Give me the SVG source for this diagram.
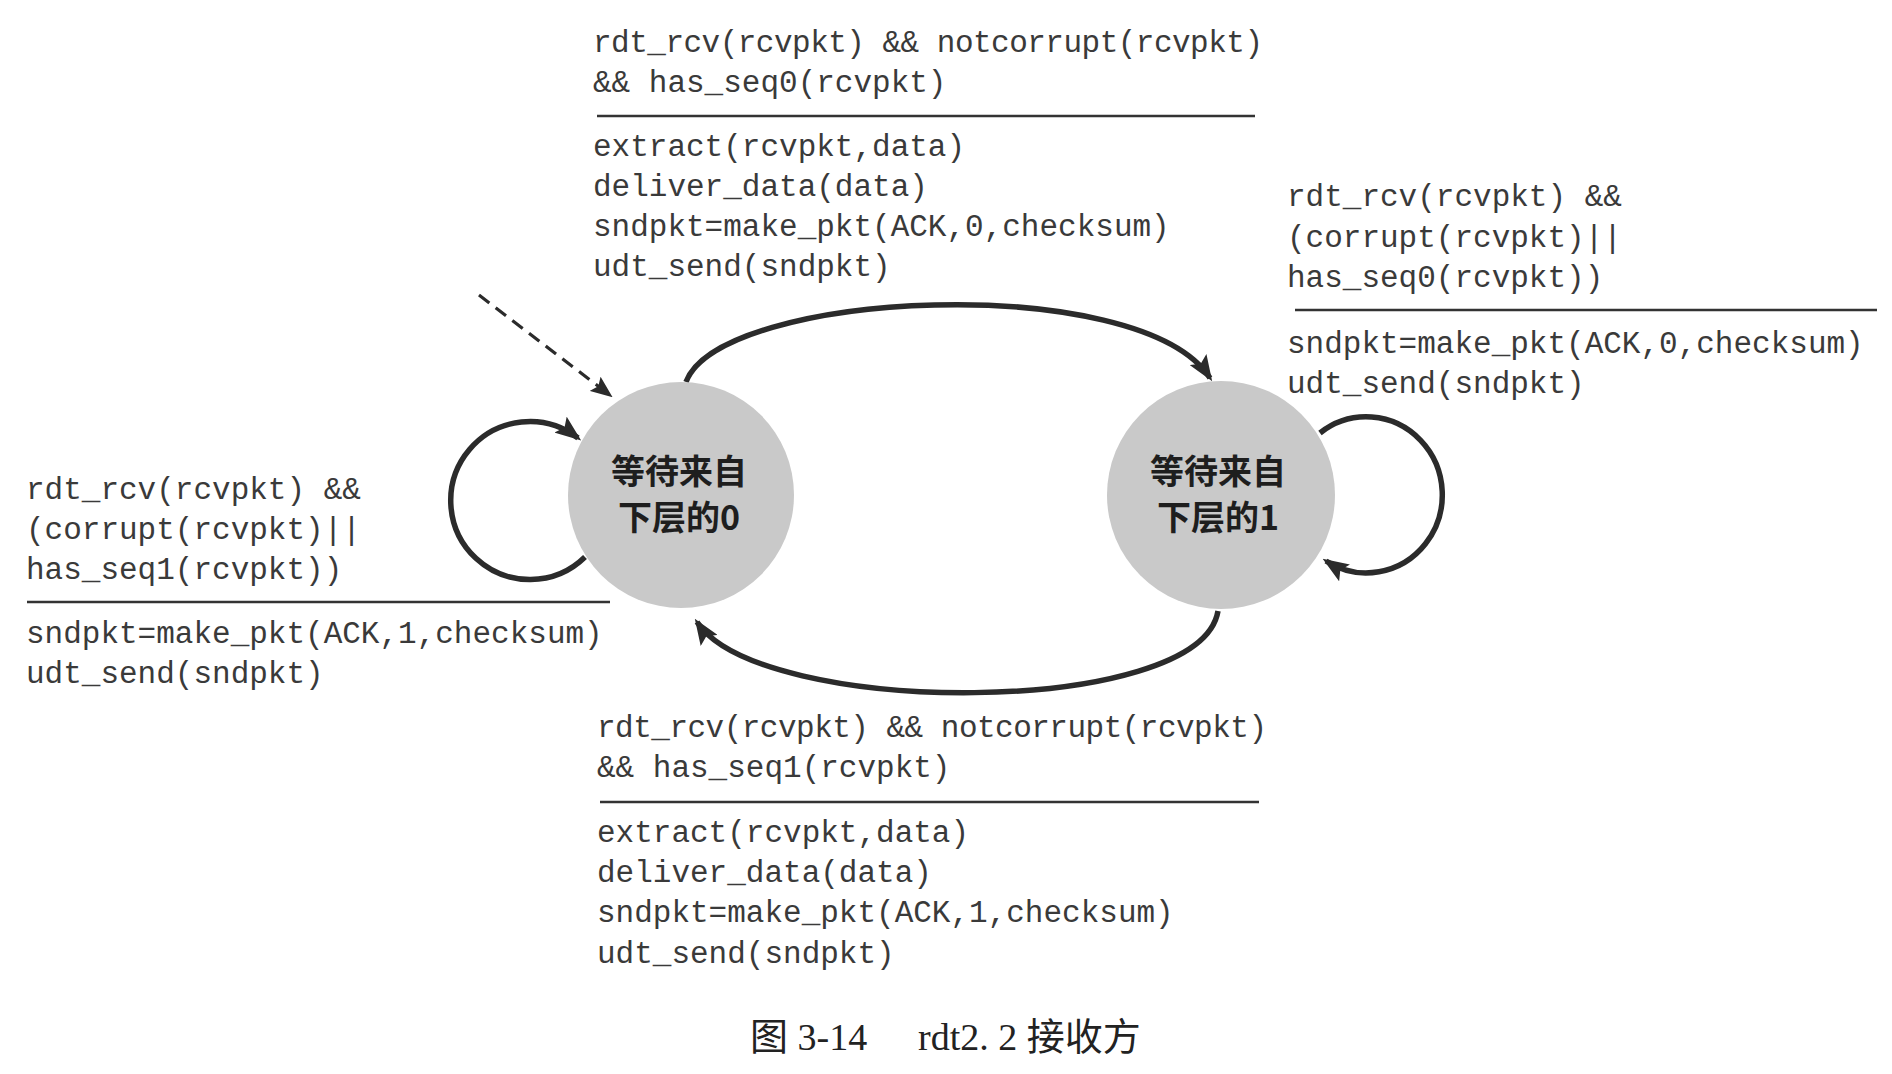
<svg xmlns="http://www.w3.org/2000/svg" width="1892" height="1074" viewBox="0 0 1892 1074">
<style>
.lbl{font-family:"Liberation Mono","DejaVu Sans Mono",monospace;font-size:31px;fill:#3a3a3a}
.rule{stroke:#333;stroke-width:2.5}
.edge{fill:none;stroke:#2b2b2b;stroke-width:5.5}
.state{fill:#c9c9c9}
.stxt{font-family:"Noto Sans CJK SC",sans-serif;font-size:34px;font-weight:bold;fill:#1e1e1e;text-anchor:middle}
.cap{font-family:"Liberation Serif","Noto Sans CJK SC",serif;font-size:38px;fill:#222}
</style>
<defs>
<marker id="ah" markerWidth="26" markerHeight="20" refX="22" refY="10" orient="auto" markerUnits="userSpaceOnUse">
<path d="M0,0 L26,10 L0,20 L5,10 z" fill="#2b2b2b"/>
</marker>
<marker id="ahs" markerWidth="22" markerHeight="18" refX="20" refY="9" orient="auto" markerUnits="userSpaceOnUse">
<path d="M0,0 L22,9 L0,18 L4,9 z" fill="#2b2b2b"/>
</marker>
</defs>
<rect width="1892" height="1074" fill="#ffffff"/>

<g id="connectors">
<path class="edge" d="M 686 382 C 720 290, 1140 270, 1210 378" marker-end="url(#ah)"/>
<path class="edge" d="M 1218 611 C 1200 718, 760 718, 697 622" marker-end="url(#ah)"/>
<path class="edge" d="M 585 557 A 79 79 0 1 1 578 438" marker-end="url(#ah)"/>
<path class="edge" d="M 1320 433 A 76 78 0 1 1 1326 561" marker-end="url(#ah)"/>
<path d="M 479 295 L 611 396" fill="none" stroke="#2b2b2b" stroke-width="3.2" stroke-dasharray="13,8" marker-end="url(#ahs)"/>
</g>

<g id="state0">
<circle class="state" cx="681" cy="495" r="113"/>
<text class="stxt" x="679" y="484">等待来自</text>
<text class="stxt" x="679" y="530">下层的0</text>
</g>

<g id="state1">
<circle class="state" cx="1221" cy="495" r="114"/>
<text class="stxt" x="1218" y="484">等待来自</text>
<text class="stxt" x="1218" y="530">下层的1</text>
</g>

<g id="label-top">
<text class="lbl" x="593" y="52" textLength="670">rdt_rcv(rcvpkt) &amp;&amp; notcorrupt(rcvpkt)</text>
<text class="lbl" x="593" y="92">&amp;&amp; has_seq0(rcvpkt)</text>
<line class="rule" x1="597" y1="116" x2="1255" y2="116"/>
<text class="lbl" x="593" y="156">extract(rcvpkt,data)</text>
<text class="lbl" x="593" y="196">deliver_data(data)</text>
<text class="lbl" x="593" y="236">sndpkt=make_pkt(ACK,0,checksum)</text>
<text class="lbl" x="593" y="276">udt_send(sndpkt)</text>
</g>

<g id="label-right">
<text class="lbl" x="1287" y="206">rdt_rcv(rcvpkt) &amp;&amp;</text>
<text class="lbl" x="1287" y="247">(corrupt(rcvpkt)||</text>
<text class="lbl" x="1287" y="287">has_seq0(rcvpkt))</text>
<line class="rule" x1="1295" y1="310" x2="1877" y2="310"/>
<text class="lbl" x="1287" y="353">sndpkt=make_pkt(ACK,0,checksum)</text>
<text class="lbl" x="1287" y="393">udt_send(sndpkt)</text>
</g>

<g id="label-left">
<text class="lbl" x="26" y="499">rdt_rcv(rcvpkt) &amp;&amp;</text>
<text class="lbl" x="26" y="539">(corrupt(rcvpkt)||</text>
<text class="lbl" x="26" y="579">has_seq1(rcvpkt))</text>
<line class="rule" x1="27" y1="602" x2="610" y2="602"/>
<text class="lbl" x="26" y="643">sndpkt=make_pkt(ACK,1,checksum)</text>
<text class="lbl" x="26" y="683">udt_send(sndpkt)</text>
</g>

<g id="label-bottom">
<text class="lbl" x="597" y="737" textLength="670">rdt_rcv(rcvpkt) &amp;&amp; notcorrupt(rcvpkt)</text>
<text class="lbl" x="597" y="777">&amp;&amp; has_seq1(rcvpkt)</text>
<line class="rule" x1="600" y1="802" x2="1259" y2="802"/>
<text class="lbl" x="597" y="842">extract(rcvpkt,data)</text>
<text class="lbl" x="597" y="882">deliver_data(data)</text>
<text class="lbl" x="597" y="922">sndpkt=make_pkt(ACK,1,checksum)</text>
<text class="lbl" x="597" y="963">udt_send(sndpkt)</text>
</g>

<g id="caption">
<text class="cap" x="750" y="1050">图 3-14</text>
<text class="cap" x="918" y="1050">rdt2. 2 接收方</text>
</g>
</svg>
